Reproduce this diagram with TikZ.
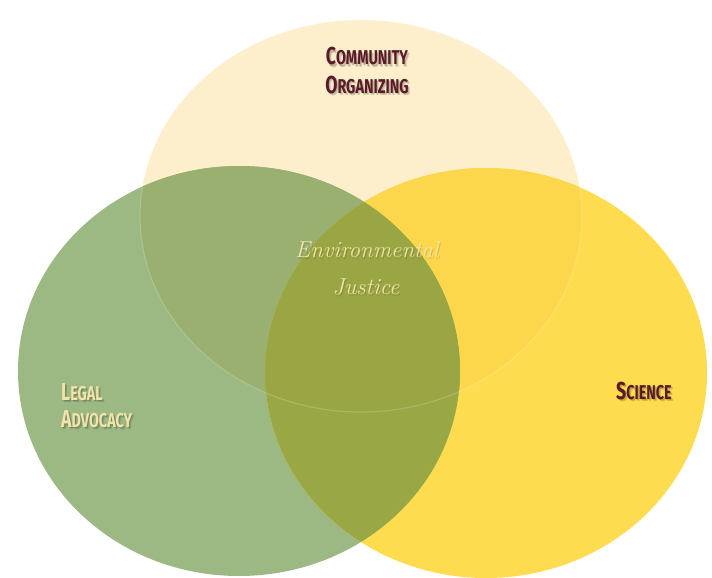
\documentclass[tikz,border=0pt]{standalone}
\usepackage{fontspec}
\newfontfamily\labelfont[FakeStretch=0.72]{Fira Sans}
\definecolor{cream}{HTML}{FDEFCB}
\definecolor{leaf}{HTML}{9CB883}
\definecolor{sun}{HTML}{FDDC50}
\definecolor{creamleaf}{HTML}{9AB070}
\definecolor{creamsun}{HTML}{FCD64B}
\definecolor{leafsun}{HTML}{99A845}
\definecolor{allthree}{HTML}{9AA644}
\definecolor{maroon}{HTML}{5A1A2A}
\definecolor{paletext}{HTML}{F2E3A8}
\newcommand\scl[2]{{\fontsize{24.5}{24.5}\selectfont #1}{\fontsize{20}{20}\selectfont #2}}
\tikzset{
  lbl/.style={font=\labelfont\bfseries, inner sep=0pt},
  shadowlbl/.style={lbl, text=black, opacity=0.14},
  ejtext/.style={font=\itshape\fontsize{23}{23}\selectfont, text=paletext, inner sep=0pt, anchor=base},
  ejshadow/.style={ejtext, text=black, opacity=0.12}
}
\newcommand\shadowtext[4]{% position, anchor, colour, text
  \node[shadowlbl, anchor=#2] at ($#1+(1,1.5)$) {#4};
  \node[shadowlbl, anchor=#2] at ($#1+(2,2.5)$) {#4};
}
\usetikzlibrary{calc}
\begin{document}
\begin{tikzpicture}[x=1pt,y=-1pt]
\fill[white] (0,0) rectangle (712,578);
\useasboundingbox (0,0) rectangle (712,578);
\def\topE{(361,216) ellipse [x radius=221, y radius=196]}
\def\leftE{(239,371) ellipse [x radius=221, y radius=205]}
\def\rightE{(486,373) ellipse [x radius=221, y radius=205]}
% base fills
\fill[cream] \topE;
\fill[leaf] \leftE;
\fill[sun] \rightE;
% overlaps
\begin{scope}
  \clip \topE;
  \fill[creamleaf] \leftE;
  \fill[creamsun] \rightE;
\end{scope}
\begin{scope}
  \clip \leftE;
  \fill[leafsun] \rightE;
  \clip \topE;
  \fill[allthree] \rightE;
\end{scope}
% faint edge of the top circle
\draw[white, opacity=0.18, line width=1.2pt] \topE;
% labels with soft shadows
\shadowtext{(367,65)}{base}{}{\scl{C}{OMMUNITY}}
\shadowtext{(367,93)}{base}{}{\scl{O}{RGANIZING}}
\node[lbl, text=maroon, anchor=base] (community1) at (367,65) {\scl{C}{OMMUNITY}};
\node[lbl, text=maroon, anchor=base] (community2) at (367,93) {\scl{O}{RGANIZING}};
\shadowtext{(61,400)}{base west}{}{\scl{L}{EGAL}}
\shadowtext{(61,427)}{base west}{}{\scl{A}{DVOCACY}}
\node[lbl, text=paletext, anchor=base west] (legal1) at (61,400) {\scl{L}{EGAL}};
\node[lbl, text=paletext, anchor=base west] (legal2) at (61,427) {\scl{A}{DVOCACY}};
\shadowtext{(644,399)}{base}{}{\scl{S}{CIENCE}}
\node[lbl, text=maroon, anchor=base] (science) at (644,399) {\scl{S}{CIENCE}};
\node[ejshadow] at (368,259) {Environmental};
\node[ejshadow] at (367,296) {Justice};
\node[ejtext] (env) at (367,257) {Environmental};
\node[ejtext] (justice) at (366,294) {Justice};
\end{tikzpicture}
\end{document}
